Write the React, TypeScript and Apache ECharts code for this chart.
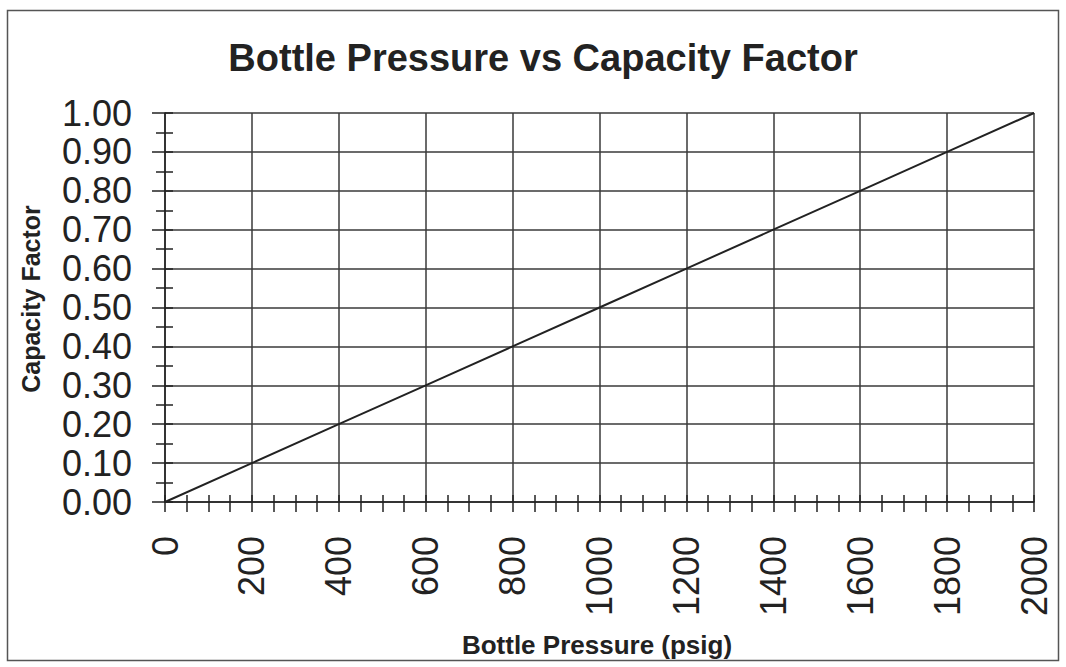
import React, { useEffect, useRef } from "react";
import * as echarts from "echarts";

const pressure = [0, 200, 400, 600, 800, 1000, 1200, 1400, 1600, 1800, 2000];
const capacity = [0, 0.1, 0.2, 0.3, 0.4, 0.5, 0.6, 0.7, 0.8, 0.9, 1.0];
const titleText = "Bottle Pressure vs Capacity Factor";
const xName = "Bottle Pressure (psig)";
const yName = "Capacity Factor";

const FONT = "'Liberation Sans', Arial, Helvetica, sans-serif";
const INK = "#222";
const GRID = "#3a3a3a";

export default function App() {
  const ref = useRef<HTMLDivElement>(null);
  useEffect(() => {
    if (!ref.current) return;
    const chart = echarts.init(ref.current, undefined, { renderer: "svg" });
    const data = pressure.map((p, i) => [p, capacity[i]]);
    const baseX = {
      type: "value" as const,
      min: 0,
      max: 2000,
      interval: 200,
      position: "bottom" as const,
      gridIndex: 0,
    };
    const baseY = {
      type: "value" as const,
      min: 0,
      max: 1,
      interval: 0.1,
      position: "left" as const,
      gridIndex: 0,
    };
    chart.setOption({
      animation: false,
      backgroundColor: "#fff",
      grid: { left: 165, right: 32, top: 113, bottom: 165, containLabel: false },
      graphic: [
        {
          type: "rect",
          shape: { x: 7.5, y: 10.5, width: 1051, height: 650 },
          style: { fill: "none", stroke: "#555", lineWidth: 1.5 },
        },
        {
          type: "text",
          x: 543,
          y: 58,
          style: {
            text: titleText,
            font: `bold 38px ${FONT}`,
            fill: INK,
            align: "center",
            verticalAlign: "middle",
          },
        },
        {
          type: "text",
          x: 597,
          y: 645,
          style: {
            text: xName,
            font: `bold 26px ${FONT}`,
            fill: INK,
            align: "center",
            verticalAlign: "middle",
          },
        },
        {
          type: "text",
          x: 31,
          y: 299,
          rotation: Math.PI / 2,
          style: {
            text: yName,
            font: `bold 25px ${FONT}`,
            fill: INK,
            align: "center",
            verticalAlign: "middle",
          },
        },
      ],
      xAxis: [
        {
          ...baseX,
          axisLine: { show: true, lineStyle: { color: INK, width: 1.5 } },
          axisTick: { show: true, inside: false, length: 10, lineStyle: { color: INK, width: 1.5 } },
          minorTick: { show: true, splitNumber: 4, length: 10, lineStyle: { color: INK, width: 1.5 } },
          axisLabel: {
            rotate: 90,
            margin: 34,
            fontSize: 36,
            fontFamily: FONT,
            color: INK,
            formatter: (v: number) => String(v),
          },
          splitLine: { show: true, lineStyle: { color: GRID, width: 1.5 } },
        },
        {
          ...baseX,
          axisLine: { show: false },
          axisTick: { show: true, inside: true, length: 7, lineStyle: { color: INK, width: 1.5 } },
          minorTick: { show: true, splitNumber: 4, length: 7, lineStyle: { color: INK, width: 1.5 } },
          axisLabel: { show: false },
          splitLine: { show: false },
        },
      ],
      yAxis: [
        {
          ...baseY,
          axisLine: { show: true, lineStyle: { color: INK, width: 1.5 } },
          axisTick: { show: true, inside: false, length: 13, lineStyle: { color: INK, width: 1.5 } },
          minorTick: { show: true, splitNumber: 2, length: 9, lineStyle: { color: INK, width: 1.5 } },
          axisLabel: {
            margin: 33,
            fontSize: 36,
            fontFamily: FONT,
            color: INK,
            formatter: (v: number) => v.toFixed(2),
          },
          splitLine: { show: true, lineStyle: { color: GRID, width: 1.5 } },
        },
        {
          ...baseY,
          axisLine: { show: false },
          axisTick: { show: true, inside: true, length: 8, lineStyle: { color: INK, width: 1.5 } },
          minorTick: { show: true, splitNumber: 2, length: 8, lineStyle: { color: INK, width: 1.5 } },
          axisLabel: { show: false },
          splitLine: { show: false },
        },
      ],
      series: [
        {
          type: "line",
          xAxisIndex: 0,
          yAxisIndex: 0,
          data,
          showSymbol: false,
          symbol: "none",
          lineStyle: { color: INK, width: 2 },
        },
      ],
    });
    return () => chart.dispose();
  }, []);
  return (
    <div
      ref={ref}
      style={{ position: "fixed", left: 0, top: 0, width: 1066, height: 667, background: "#fff" }}
    />
  );
}
